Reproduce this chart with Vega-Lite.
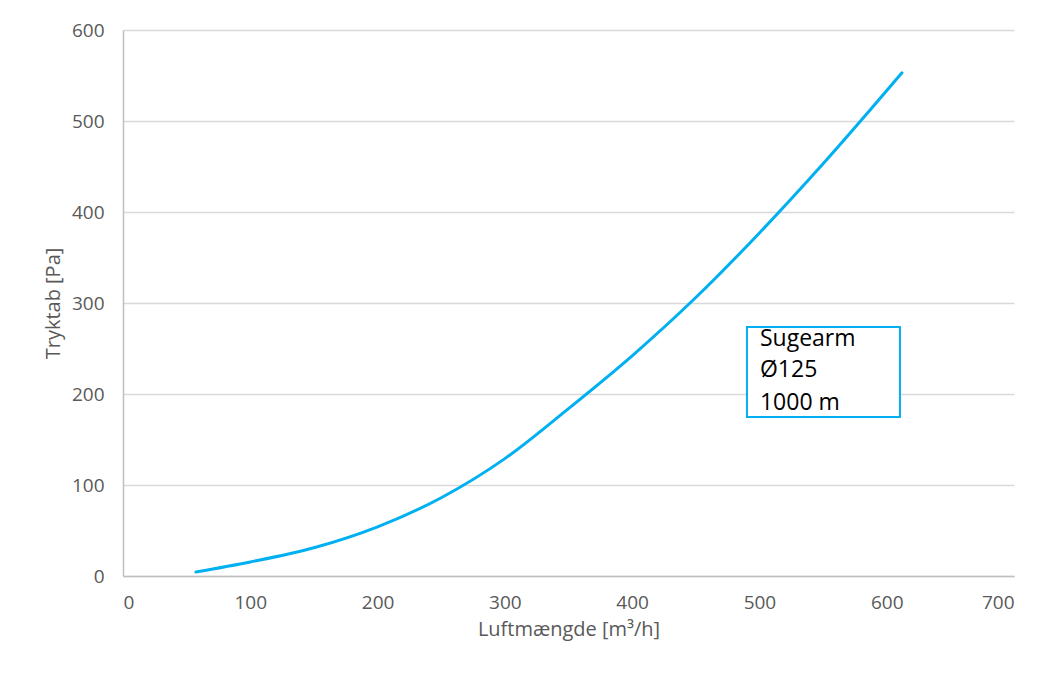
{
  "$schema": "https://vega.github.io/schema/vega-lite/v6.json",
  "autosize": "none",
  "width": 891,
  "height": 546,
  "padding": {"left": 123, "top": 30, "right": 29, "bottom": 99},
  "background": "white",
  "config": {
    "font": "Open Sans",
    "view": {"stroke": null},
    "axis": {
      "labelFont": "Open Sans",
      "titleFont": "Open Sans",
      "labelFontSize": 19,
      "titleFontSize": 20,
      "labelColor": "#595959",
      "titleColor": "#595959",
      "titleFontWeight": "normal",
      "ticks": false,
      "gridColor": "#d9d9d9",
      "gridWidth": 1.5,
      "domainColor": "#bfbfbf",
      "domainWidth": 1.5
    }
  },
  "datasets": {
    "curve": [
      {"q": 57.3, "p": 4.4},
      {"q": 100, "p": 15.4},
      {"q": 150, "p": 31},
      {"q": 200, "p": 54},
      {"q": 250, "p": 86},
      {"q": 300, "p": 129},
      {"q": 350, "p": 184},
      {"q": 400, "p": 242},
      {"q": 450, "p": 306},
      {"q": 500, "p": 377},
      {"q": 550, "p": 453},
      {"q": 612, "p": 553}
    ],
    "box": [{"x1": 490.2, "x2": 610.4, "y1": 174.7, "y2": 273.6}],
    "labels": [
      {"x": 500.4, "y": 260.4, "t": "Sugearm"},
      {"x": 500.4, "y": 226.4, "t": "Ø125"},
      {"x": 500.4, "y": 190.1, "t": "1000 m"}
    ]
  },
  "layer": [
    {
      "data": {"name": "curve"},
      "mark": {"type": "line", "color": "#00b0f0", "strokeWidth": 3, "interpolate": "monotone", "strokeCap": "round"},
      "encoding": {
        "x": {
          "field": "q", "type": "quantitative",
          "scale": {"domain": [0, 700], "nice": false},
          "axis": {"values": [0, 100, 200, 300, 400, 500, 600, 700], "grid": false, "title": "Luftmængde [m³/h]", "labelPadding": 17, "titlePadding": 7}
        },
        "y": {
          "field": "p", "type": "quantitative",
          "scale": {"domain": [0, 600], "nice": false},
          "axis": {"values": [0, 100, 200, 300, 400, 500, 600], "grid": true, "title": "Tryktab [Pa]", "labelPadding": 19, "titlePadding": 8}
        }
      }
    },
    {
      "data": {"name": "box"},
      "mark": {"type": "rect", "fill": "white", "stroke": "#00b0f0", "strokeWidth": 2},
      "encoding": {
        "x": {"field": "x1", "type": "quantitative"},
        "x2": {"field": "x2"},
        "y": {"field": "y1", "type": "quantitative"},
        "y2": {"field": "y2"}
      }
    },
    {
      "data": {"name": "labels"},
      "mark": {"type": "text", "align": "left", "baseline": "middle", "fontSize": 23, "color": "#000000", "font": "Open Sans"},
      "encoding": {
        "x": {"field": "x", "type": "quantitative"},
        "y": {"field": "y", "type": "quantitative"},
        "text": {"field": "t"}
      }
    }
  ]
}
